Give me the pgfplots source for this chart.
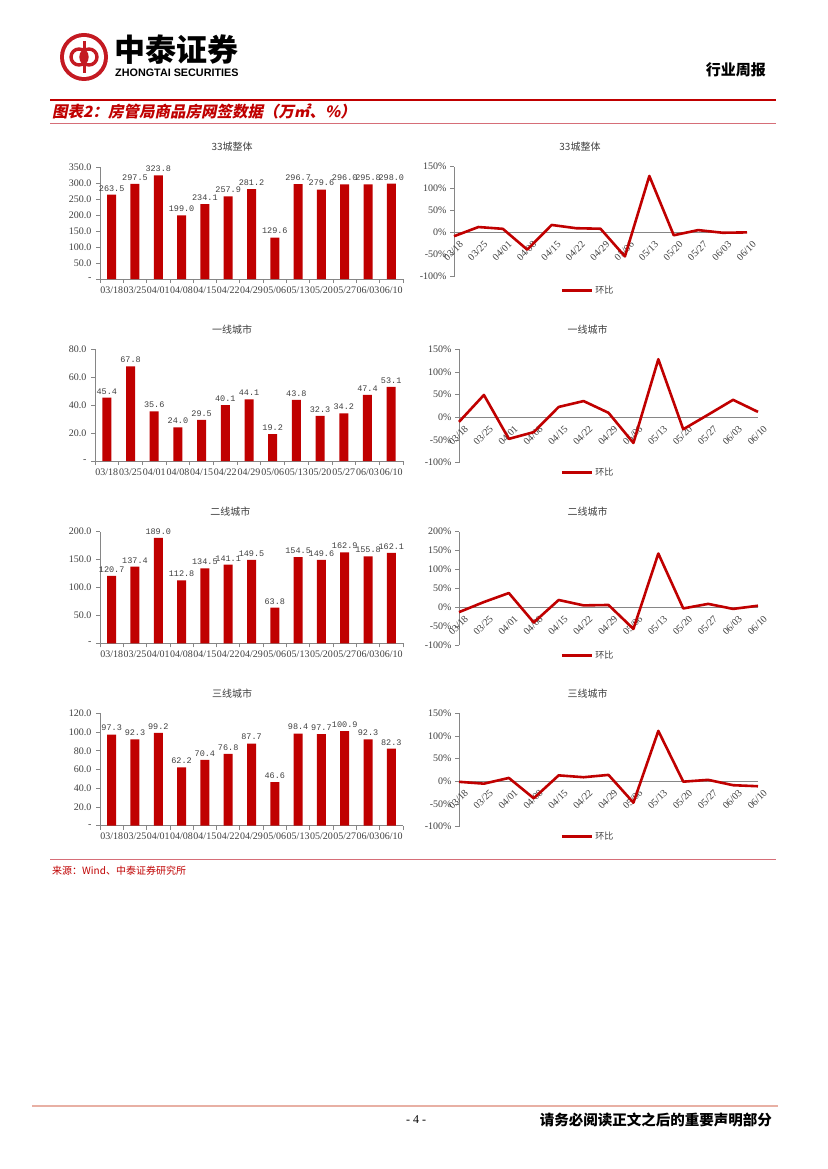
\documentclass[border=0pt]{standalone}
\usepackage{fontspec}
\usepackage{pgfplots}
\pgfplotsset{compat=1.18}
\setmainfont{Liberation Serif}
\newfontfamily\cjk{Noto Sans CJK SC}
\newfontfamily\cjkslant{Noto Sans CJK SC}[FakeSlant=0.2]
\newfontfamily\lmono{Liberation Mono}
\newfontfamily\lsans{Liberation Sans}

\definecolor{barred}{RGB}{192,0,0}
\definecolor{logored}{RGB}{196,26,34}
\definecolor{titlered}{RGB}{192,0,0}
\definecolor{thinred}{RGB}{214,110,120}
\definecolor{footline}{RGB}{232,176,164}
\definecolor{axisgray}{RGB}{134,134,134}
\definecolor{labelgray}{RGB}{64,64,64}

\pgfplotsset{
  /pgf/number format/assume math mode=true,
  dates/.style={xtick={1,...,13},
    xticklabels={03/18,03/25,04/01,04/08,04/15,04/22,04/29,05/06,05/13,05/20,05/27,06/03,06/10}},
  zcommon/.style={
    scale only axis, anchor=south west,
    axis line style={draw=axisgray, line width=0.8pt},
    tick style={draw=axisgray, line width=0.8pt},
    tick align=outside, major tick length=4pt, minor tick length=4pt,
    ticklabel style={font=\fontsize{10}{10}\selectfont, text=labelgray},
    major x tick style={draw=none},
    title style={font=\cjk\fontsize{10}{10}\selectfont, text=labelgray, anchor=center, yshift=14pt},
    dates,
  },
  barchart/.style={zcommon, ybar, bar width=9pt,
    axis x line*=bottom, axis y line*=left,
    xmin=0.5, xmax=13.5, minor xtick={0.5,1.5,...,13.5}, ymin=0,
    yticklabel style={xshift=-1pt},
    nodes near coords,
    nodes near coords style={font=\lmono\fontsize{8.5}{8.5}\selectfont, text=labelgray,
      /pgf/number format/.cd, fixed, fixed zerofill, precision=1},
    title style={at={(0.436,1)}}},
  linechart/.style={zcommon,
    axis x line*=middle, axis y line*=left,
    hide obscured x ticks=false, hide obscured y ticks=false,
    xmin=1, xmax=13, ymin=-100, clip=false,
    xticklabel style={rotate=45, anchor=north east, inner sep=1pt, yshift=-5pt, xshift=2pt},
    legend style={draw=none, fill=none, anchor=center,
      font=\cjk\fontsize{9}{9}\selectfont, text=labelgray},
    legend image code/.code={\draw[color=barred, line width=3pt] (0pt,0pt) -- (30pt,0pt);},
    title style={at={(0.43,1)}}},
  redline/.style={color=barred, line width=2.6pt, line join=round, mark=none},
}

\begin{document}
\begin{tikzpicture}
\useasboundingbox (0,0) rectangle (827pt,-1169pt);
\fill[white] (0,0) rectangle (827pt,-1169pt);

% header
\fill[logored] (84pt,-57pt) circle (24pt);
\fill[white] (84pt,-57pt) circle (20pt);
\draw[logored, line width=3.4pt] (79pt,-57pt) circle (8pt);
\draw[logored, line width=3.4pt] (89pt,-57pt) circle (8pt);
\draw[logored, line width=3pt] (84pt,-41pt) -- (84pt,-73pt);
\node[anchor=west, inner sep=0pt, font=\cjk\bfseries\fontsize{31}{31}\selectfont] at (114pt,-50pt) {中泰证券};
\node[anchor=west, inner sep=0pt, font=\lsans\bfseries\fontsize{10.8}{10.8}\selectfont] at (115pt,-73pt) {ZHONGTAI SECURITIES};
\node[anchor=east, inner sep=0pt, font=\cjk\bfseries\fontsize{15}{15}\selectfont] at (766pt,-70pt) {行业周报};
\draw[titlered, line width=2pt] (50pt,-100pt) -- (776pt,-100pt);
\node[anchor=west, inner sep=0pt, text=titlered, font=\cjkslant\bfseries\fontsize{15.5}{15.5}\selectfont] at (52pt,-112pt) {图表2：房管局商品房网签数据（万㎡、\%）};
\draw[thinred, line width=0.8pt] (50pt,-123pt) -- (776pt,-123pt);

% 33 cities
\begin{axis}[barchart, at={(100pt,-279pt)}, width=303pt, height=112pt,
  ymax=350, ytick={0,50,...,350},
  yticklabels={-,50.0,100.0,150.0,200.0,250.0,300.0,350.0},
  title={33城整体}]
\addplot[fill=barred, draw=none] coordinates {
(1,263.5) (2,297.5) (3,323.8) (4,199.0) (5,234.1) (6,257.9) (7,281.2)
(8,129.6) (9,296.7) (10,279.6) (11,296.0) (12,295.8) (13,298.0)};
\end{axis}
\begin{axis}[linechart, at={(454pt,-276.7pt)}, width=293pt, height=110pt,
  ymax=150, ytick={-100,-50,0,50,100,150},
  yticklabels={-100\%,-50\%,0\%,50\%,100\%,150\%},
  title={33城整体}, legend style={at={(0.457,-0.127)}}]
\addplot[redline] coordinates {
(1,-8.0) (2,12.9) (3,8.8) (4,-38.5) (5,17.6) (6,10.2) (7,9.0)
(8,-53.9) (9,128.9) (10,-5.8) (11,5.9) (12,-0.1) (13,0.7)};
\legend{环比}
\end{axis}

% tier 1
\begin{axis}[barchart, at={(95pt,-461pt)}, width=308pt, height=111.7pt,
  ymax=80, ytick={0,20,...,80},
  yticklabels={-,20.0,40.0,60.0,80.0},
  title={一线城市}, title style={at={(0.445,1)}}]
\addplot[fill=barred, draw=none] coordinates {
(1,45.4) (2,67.8) (3,35.6) (4,24.0) (5,29.5) (6,40.1) (7,44.1)
(8,19.2) (9,43.8) (10,32.3) (11,34.2) (12,47.4) (13,53.1)};
\end{axis}
\begin{axis}[linechart, at={(459pt,-462.7pt)}, width=299pt, height=113.4pt,
  ymax=150, ytick={-100,-50,0,50,100,150},
  yticklabels={-100\%,-50\%,0\%,50\%,100\%,150\%},
  title={一线城市}, legend style={at={(0.431,-0.088)}}]
\addplot[redline] coordinates {
(1,-10.0) (2,49.3) (3,-47.5) (4,-32.6) (5,22.9) (6,35.9) (7,10.0)
(8,-56.5) (9,128.1) (10,-26.3) (11,5.9) (12,38.6) (13,12.0)};
\legend{环比}
\end{axis}

% tier 2
\begin{axis}[barchart, at={(100pt,-643.3pt)}, width=303pt, height=111.6pt,
  ymax=200, ytick={0,50,...,200},
  yticklabels={-,50.0,100.0,150.0,200.0},
  title={二线城市}, title style={at={(0.43,1)}}]
\addplot[fill=barred, draw=none] coordinates {
(1,120.7) (2,137.4) (3,189.0) (4,112.8) (5,134.5) (6,141.1) (7,149.5)
(8,63.8) (9,154.5) (10,149.6) (11,162.9) (12,155.8) (13,162.1)};
\end{axis}
\begin{axis}[linechart, at={(459pt,-645pt)}, width=299pt, height=113.3pt,
  ymax=200, ytick={-100,-50,0,50,100,150,200},
  yticklabels={-100\%,-50\%,0\%,50\%,100\%,150\%,200\%},
  title={二线城市}, legend style={at={(0.431,-0.09)}}]
\addplot[redline] coordinates {
(1,-13.0) (2,13.8) (3,37.6) (4,-40.3) (5,19.2) (6,4.9) (7,6.0)
(8,-57.3) (9,142.2) (10,-3.2) (11,8.9) (12,-4.4) (13,4.0)};
\legend{环比}
\end{axis}

% tier 3
\begin{axis}[barchart, at={(100pt,-825.7pt)}, width=303pt, height=112.4pt,
  ymax=120, ytick={0,20,...,120},
  yticklabels={-,20.0,40.0,60.0,80.0,100.0,120.0},
  title={三线城市}]
\addplot[fill=barred, draw=none] coordinates {
(1,97.3) (2,92.3) (3,99.2) (4,62.2) (5,70.4) (6,76.8) (7,87.7)
(8,46.6) (9,98.4) (10,97.7) (11,100.9) (12,92.3) (13,82.3)};
\end{axis}
\begin{axis}[linechart, at={(459pt,-826.7pt)}, width=299pt, height=113.4pt,
  ymax=150, ytick={-100,-50,0,50,100,150},
  yticklabels={-100\%,-50\%,0\%,50\%,100\%,150\%},
  title={三线城市}, legend style={at={(0.431,-0.088)}}]
\addplot[redline] coordinates {
(1,-1.0) (2,-5.1) (3,7.5) (4,-37.3) (5,13.2) (6,9.1) (7,14.2)
(8,-46.9) (9,111.2) (10,-0.7) (11,3.3) (12,-8.5) (13,-10.8)};
\legend{环比}
\end{axis}

% source and footer
\draw[thinred, line width=0.8pt] (50pt,-859pt) -- (776pt,-859pt);
\node[anchor=west, inner sep=0pt, text=titlered, font=\cjk\fontsize{10}{10}\selectfont] at (52pt,-871pt) {来源：Wind、中泰证券研究所};
\draw[footline, line width=1.5pt] (32pt,-1106pt) -- (778pt,-1106pt);
\node[inner sep=0pt, font=\fontsize{12}{12}\selectfont] at (416pt,-1120pt) {- 4 -};
\node[anchor=east, inner sep=0pt, font=\cjk\bfseries\fontsize{14.5}{14.5}\selectfont] at (772pt,-1120pt) {请务必阅读正文之后的重要声明部分};
\end{tikzpicture}
\end{document}
